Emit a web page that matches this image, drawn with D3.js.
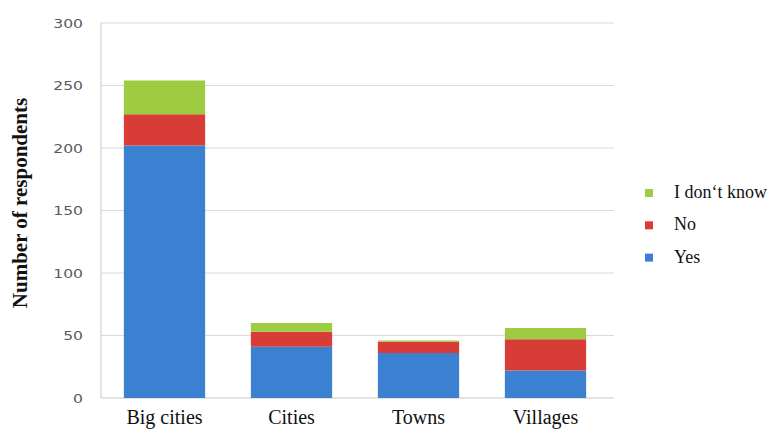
<!DOCTYPE html>
<html>
<head>
<meta charset="utf-8">
<script src="https://cdn.jsdelivr.net/npm/d3@7"></script>
<style>
  body { margin: 0; background: #fff; }
  svg { display: block; }
</style>
</head>
<body>
<svg id="chart" width="770" height="439"></svg>
<script>
// Survey answers by settlement type
const categories = ["Big cities", "Cities", "Towns", "Villages"];
const yesValues = [202, 41, 36, 22];
const noValues = [25, 12, 9, 25];
const dontKnowValues = [27, 7, 1, 9];
const seriesNames = ["Yes", "No", "I don\u2018t know"];
const seriesColors = ["#3c80d1", "#d73c36", "#9dcb41"];
const yTicks = [0, 50, 100, 150, 200, 250, 300];

const rows = categories.map((c, i) => ({
  category: c,
  "Yes": yesValues[i],
  "No": noValues[i],
  "I don\u2018t know": dontKnowValues[i]
}));

const svg = d3.select("#chart");
const margin = { left: 101, right: 161, top: 23, bottom: 41 };
const width = 770, height = 439;
const serif = "'Liberation Serif', 'Times New Roman', serif";

const x = d3.scaleBand()
  .domain(categories)
  .range([margin.left, width - margin.right])
  .paddingInner(0.36)
  .paddingOuter(0.18);

const y = d3.scaleLinear()
  .domain([0, 300])
  .range([height - margin.bottom, margin.top]);

// Horizontal gridlines
svg.append("g")
  .selectAll("line")
  .data(yTicks)
  .join("line")
  .attr("x1", margin.left)
  .attr("x2", width - margin.right + 5)
  .attr("y1", d => y(d))
  .attr("y2", d => y(d))
  .attr("stroke", d => d === 0 ? "#c8c8c8" : "#dadada")
  .attr("stroke-width", 1.2);

// Left axis line
svg.append("line")
  .attr("x1", margin.left)
  .attr("x2", margin.left)
  .attr("y1", y(300))
  .attr("y2", y(0))
  .attr("stroke", "#d0d0d0")
  .attr("stroke-width", 1.2);

// Y tick labels (wide digits)
const yAxis = d3.axisLeft(y).tickValues(yTicks).tickSize(0).tickPadding(0);
const yg = svg.append("g")
  .attr("transform", `translate(83,0)`)
  .call(yAxis);
yg.select(".domain").remove();
yg.selectAll("text")
  .attr("x", 0)
  .attr("transform", "scale(1.25,1)")
  .attr("fill", "#595959")
  .attr("font-family", "'DejaVu Sans', sans-serif")
  .attr("font-size", 12.5);

// Stacked bars
const stack = d3.stack().keys(seriesNames);
const stacked = stack(rows);
const color = d3.scaleOrdinal().domain(seriesNames).range(seriesColors);

svg.append("g")
  .selectAll("g")
  .data(stacked)
  .join("g")
  .attr("fill", d => color(d.key))
  .selectAll("rect")
  .data(d => d)
  .join("rect")
  .attr("x", d => x(d.data.category))
  .attr("width", x.bandwidth())
  .attr("y", d => y(d[1]))
  .attr("height", d => y(d[0]) - y(d[1]));

// X category labels
const xAxis = d3.axisBottom(x).tickSize(0).tickPadding(0);
const xg = svg.append("g")
  .attr("transform", `translate(0,424)`)
  .call(xAxis);
xg.select(".domain").remove();
xg.selectAll("text")
  .attr("y", 0)
  .attr("dy", 0)
  .attr("fill", "#111")
  .attr("font-family", serif)
  .attr("font-size", 20);

// Y axis title
svg.append("text")
  .attr("transform", `translate(27,203) rotate(-90)`)
  .attr("text-anchor", "middle")
  .attr("font-family", serif)
  .attr("font-weight", "bold")
  .attr("font-size", 21)
  .attr("fill", "#111")
  .text("Number of respondents");

// Legend (top entry is the last stacked series)
const legendOrder = seriesNames.slice().reverse();
const legend = svg.append("g")
  .attr("transform", "translate(645,189)")
  .selectAll("g")
  .data(legendOrder)
  .join("g")
  .attr("transform", (d, i) => `translate(0,${i * 32.3})`);
legend.append("rect")
  .attr("width", 8)
  .attr("height", 8)
  .attr("y", 0)
  .attr("fill", d => color(d));
legend.append("text")
  .attr("x", 29)
  .attr("y", 9)
  .attr("font-family", serif)
  .attr("font-size", 18)
  .attr("fill", "#111")
  .text(d => d);
</script>
</body>
</html>
